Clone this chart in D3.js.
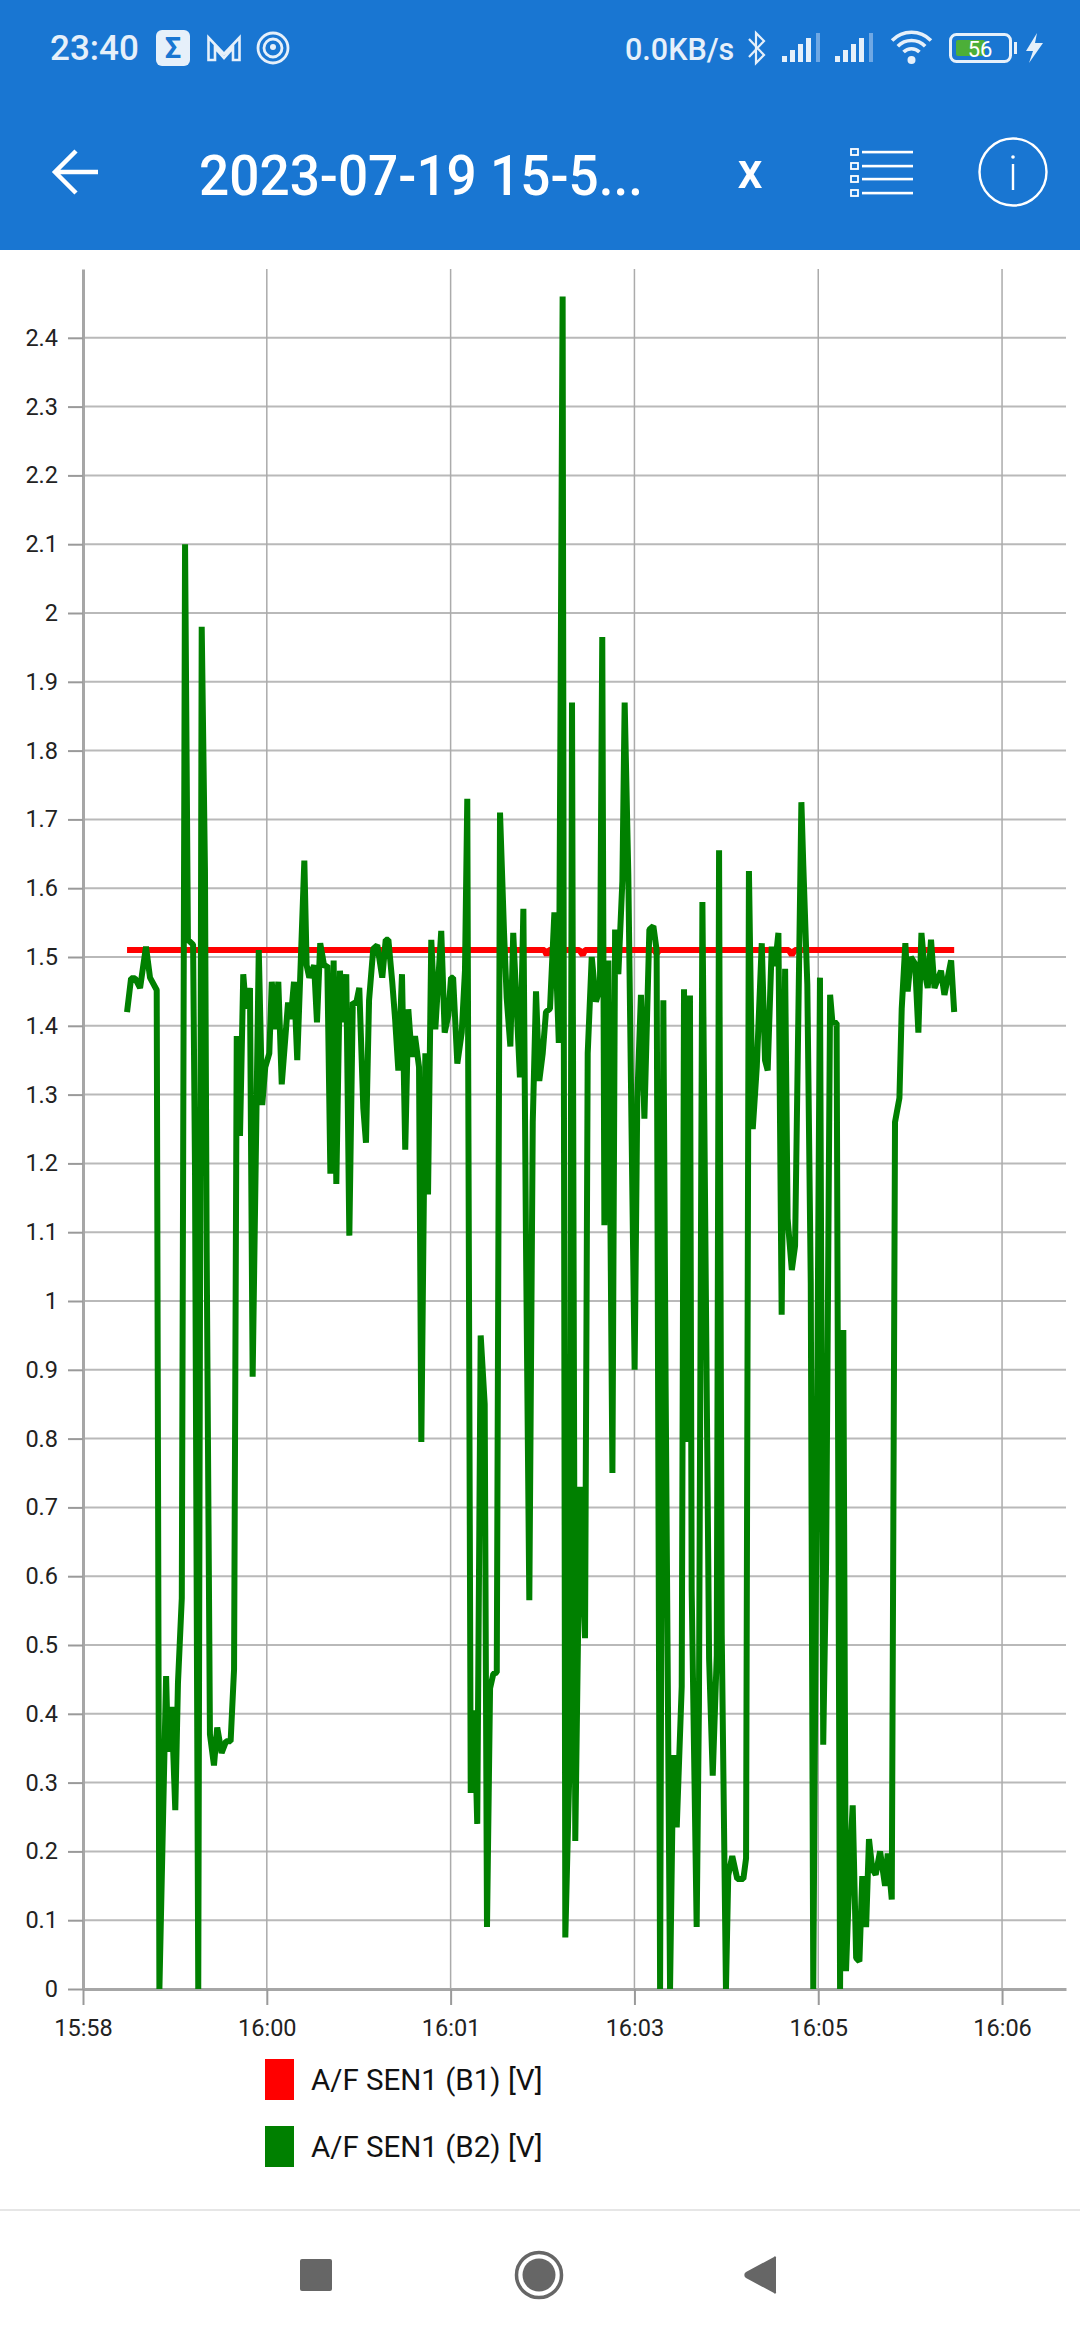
<!DOCTYPE html>
<html>
<head>
<meta charset="utf-8">
<title>A/F SEN1</title>
<script src="https://d3js.org/d3.v7.min.js"></script>
<style>
  html, body { margin: 0; padding: 0; background: #fff; }
  svg { display: block; font-family: Roboto, sans-serif; }
</style>
</head>
<body>
<div id="chart"></div>
<script>
// seconds after the first axis tick (15:58:40)
const greenTimes = [
  23.0, 25.1, 27.2, 29.8, 32.9, 35.0, 38.5, 39.9, 43.4, 44.4, 46.3, 48.2, 49.6, 51.6, 53.3, 54.8, 57.5, 58.5, 60.2, 62.0,
  63.7, 64.6, 66.3, 68.4, 70.1, 72.4, 74.7, 77.1, 78.9, 80.3, 82.0, 83.7, 85.1, 87.2, 88.6, 91.8, 93.6, 95.2, 97.3, 98.6,
  100.3, 102.0, 103.8, 107.1, 108.5, 110.2, 111.9, 115.6, 116.8, 118.2, 120.7, 122.2, 123.9, 126.0, 127.6, 129.2, 130.9, 132.3, 134.2, 135.6,
  137.5, 139.1, 140.9, 142.6, 144.3, 146.4, 147.8, 149.4, 151.6, 153.7, 156.3, 158.1, 159.5, 161.5, 163.0, 164.7, 166.6, 168.3, 169.9, 171.7,
  173.4, 175.5, 176.7, 178.8, 180.2, 181.9, 184.0, 187.1, 188.9, 190.8, 192.2, 193.3, 195.5, 197.8, 199.5, 200.7, 202.5, 204.4, 205.9, 207.7,
  209.8, 211.0, 212.6, 214.3, 216.1, 217.8, 219.9, 221.3, 223.2, 224.7, 228.2, 230.0, 231.4, 233.1, 234.9, 236.6, 238.3, 240.1, 241.8, 243.9,
  246.2, 248.5, 250.5, 251.9, 254.0, 255.4, 257.1, 259.6, 262.2, 263.6, 265.7, 267.9, 270.0, 271.2, 272.3, 274.4, 276.5, 277.9, 279.6, 281.7,
  282.9, 284.8, 288.1, 289.5, 291.4, 293.2, 295.8, 297.9, 299.6, 301.4, 303.1, 304.3, 306.6, 308.3, 310.1, 312.7, 313.9, 315.3, 317.0, 317.9,
  320.5, 321.7, 323.5, 327.0, 328.9, 331.0, 332.2, 333.6, 335.8, 337.0, 339.1, 341.7, 344.9, 346.3, 347.8, 349.8, 351.9, 354.5, 356.2, 357.6,
  359.7, 361.4, 363.2, 364.9, 366.7, 368.0, 370.2, 371.9, 375.2, 376.2, 378.3, 380.1, 381.4, 384.9, 386.6, 388.1, 390.2, 391.4, 393.6, 395.4,
  397.1, 398.5, 400.6, 402.0, 403.8, 405.5, 407.0, 409.0, 410.5, 412.2, 414.0, 416.3, 418.9, 420.3, 422.4, 424.1, 426.4, 427.6, 429.5, 430.7,
  432.4, 434.6, 436.3, 437.9, 439.8, 441.2, 442.9, 444.7, 448.1, 449.9, 453.4, 455.0
];
const greenValues = [
  1.42, 1.469, 1.469, 1.455, 1.515, 1.47, 1.452, 0, 0.455, 0.345, 0.41, 0.26, 0.445, 0.568, 2.1, 1.525, 1.518, 1.19, 0, 1.98,
  1.625, 1.07, 0.37, 0.325, 0.38, 0.343, 0.36, 0.36, 0.465, 1.385, 1.24, 1.475, 1.425, 1.455, 0.89, 1.51, 1.285, 1.34, 1.36, 1.464,
  1.395, 1.464, 1.315, 1.434, 1.41, 1.464, 1.35, 1.64, 1.488, 1.47, 1.488, 1.405, 1.52, 1.486, 1.488, 1.185, 1.495, 1.17, 1.48, 1.405,
  1.475, 1.095, 1.434, 1.432, 1.455, 1.28, 1.23, 1.437, 1.512, 1.517, 1.47, 1.525, 1.525, 1.464, 1.41, 1.335, 1.475, 1.22, 1.424, 1.355,
  1.385, 1.34, 0.795, 1.36, 1.155, 1.525, 1.395, 1.538, 1.39, 1.415, 1.47, 1.47, 1.345, 1.39, 1.48, 1.73, 0.285, 0.405, 0.24, 0.95,
  0.85, 0.09, 0.437, 0.458, 0.46, 1.71, 1.535, 1.44, 1.37, 1.535, 1.325, 1.57, 1.075, 0.565, 1.26, 1.45, 1.32, 1.36, 1.42, 1.425,
  1.565, 1.375, 2.46, 0.075, 0.315, 1.87, 0.215, 0.73, 0.51, 1.36, 1.5, 1.435, 1.455, 1.965, 1.11, 1.495, 0.75, 1.54, 1.475, 1.61,
  1.87, 1.62, 0.9, 1.295, 1.445, 1.265, 1.54, 1.545, 1.51, 0, 1.437, 0.875, 0, 0.34, 0.235, 0.44, 1.453, 0.795, 1.444, 0.58,
  0.09, 0.415, 1.58, 0.48, 0.31, 0.485, 1.655, 0.515, 0, 0.165, 0.193, 0.16, 0.16, 0.19, 1.625, 1.25, 1.34, 1.52, 1.35, 1.335,
  1.515, 1.487, 1.535, 0.98, 1.483, 1.12, 1.045, 1.08, 1.725, 1.633, 1.46, 1.025, 0, 1.47, 0.355, 0.62, 1.445, 1.405, 1.404, 0,
  0.958, 0.026, 0.19, 0.267, 0.045, 0.04, 0.164, 0.09, 0.218, 0.175, 0.166, 0.2, 0.15, 0.197, 0.13, 1.26, 1.295, 1.425, 1.52, 1.45,
  1.5, 1.49, 1.39, 1.535, 1.475, 1.455, 1.525, 1.455, 1.48, 1.445, 1.495, 1.42
];
const redTimes = [23.0, 241.0, 242.2, 243.4, 259.2, 261.0, 262.2, 298.4, 299.6, 301.0, 368.6, 370.2, 371.8, 455.0];
const redValues = [1.51, 1.51, 1.503, 1.51, 1.51, 1.503, 1.51, 1.51, 1.505, 1.51, 1.51, 1.503, 1.51, 1.51];

const xTickTimes = [0, 96, 192, 288, 384, 480];
const xTickLabels = ["15:58", "16:00", "16:01", "16:03", "16:05", "16:06"];
const yTicks = [0, 0.1, 0.2, 0.3, 0.4, 0.5, 0.6, 0.7, 0.8, 0.9, 1, 1.1, 1.2, 1.3, 1.4, 1.5, 1.6, 1.7, 1.8, 1.9, 2, 2.1, 2.2, 2.3, 2.4];
const seriesNames = ["A/F SEN1 (B1) [V]", "A/F SEN1 (B2) [V]"];
const seriesColors = ["#ff0000", "#008000"];

const width = 1080;
const height = 2340;
const margin = { top: 269, right: 14, bottom: 351, left: 83 };

const svg = d3.select("#chart").append("svg")
  .attr("width", width)
  .attr("height", height)
  .attr("viewBox", `0 0 ${width} ${height}`);

drawHeader();
drawChart();
drawNavBar();

function drawChart() {
  const x = d3.scaleLinear().domain([0, 513.4]).range([margin.left, width - margin.right]);
  const y = d3.scaleLinear().domain([0, 2.5]).range([height - margin.bottom, margin.top]);

  // gridlines
  svg.append("g").selectAll("line").data(yTicks.slice(1)).enter().append("line")
    .attr("x1", margin.left).attr("x2", width - margin.right)
    .attr("y1", d => y(d)).attr("y2", d => y(d))
    .attr("stroke", "#b9b9b9").attr("stroke-width", 2);
  svg.append("g").selectAll("line").data(xTickTimes.slice(1)).enter().append("line")
    .attr("x1", d => x(d)).attr("x2", d => x(d))
    .attr("y1", margin.top).attr("y2", height - margin.bottom)
    .attr("stroke", "#ababab").attr("stroke-width", 1.5);

  // axes
  const yAxis = svg.append("g")
    .attr("transform", `translate(${margin.left},0)`)
    .call(d3.axisLeft(y).tickValues(yTicks).tickFormat(d => String(d)).tickSize(15).tickSizeOuter(0).tickPadding(10));
  const xAxis = svg.append("g")
    .attr("transform", `translate(0,${height - margin.bottom})`)
    .call(d3.axisBottom(x).tickValues(xTickTimes).tickFormat((d, i) => xTickLabels[i]).tickSize(16).tickSizeOuter(0).tickPadding(14));

  [yAxis, xAxis].forEach(a => {
    a.select(".domain").attr("stroke", "#a6a6a6").attr("stroke-width", 3);
    a.selectAll(".tick line").attr("stroke", "#9a9a9a").attr("stroke-width", 2);
    a.selectAll("text").attr("fill", "#222").style("font-size", "23.5px").style("font-family", "Roboto");
  });

  // series
  const line = d3.line().x(d => x(d[0])).y(d => y(d[1]));
  svg.append("path")
    .attr("d", line(d3.zip(redTimes, redValues)))
    .attr("fill", "none").attr("stroke", seriesColors[0]).attr("stroke-width", 6)
    .attr("stroke-linejoin", "bevel");
  svg.append("path")
    .attr("d", line(d3.zip(greenTimes, greenValues)))
    .attr("fill", "none").attr("stroke", seriesColors[1]).attr("stroke-width", 6)
    .attr("stroke-linejoin", "bevel");

  // legend
  const legend = svg.append("g").selectAll("g").data(seriesNames).enter().append("g")
    .attr("transform", (d, i) => `translate(265,${2059 + i * 67})`);
  legend.append("rect")
    .attr("width", 29).attr("height", 41)
    .attr("fill", (d, i) => seriesColors[i]);
  legend.append("text")
    .attr("x", 46).attr("y", 31)
    .attr("fill", "#111")
    .style("font-size", "29.5px")
    .text(d => d);
}

function drawHeader() {
  const g = svg.append("g");
  g.append("rect").attr("width", width).attr("height", 250).attr("fill", "#1976d2");

  const pale = "#e6f0fa";
  g.append("text").attr("x", 50).attr("y", 60).attr("fill", pale)
    .style("font-size", "35px").style("font-weight", 500).text("23:40");

  // sigma badge
  g.append("rect").attr("x", 156).attr("y", 30).attr("width", 34).attr("height", 36).attr("rx", 6).attr("fill", pale);
  g.append("text").attr("x", 173).attr("y", 58).attr("text-anchor", "middle").attr("fill", "#1976d2")
    .style("font-size", "29px").style("font-weight", 700).text("Σ");
  // M
  g.append("path").attr("d", "M208.5 60V37.5L224 54L239.5 37.5V60H233V48L224 58L215 48V60Z")
    .attr("fill", "none").attr("stroke", pale).attr("stroke-width", 2.6);
  // target
  [15, 9].forEach(r => g.append("circle").attr("cx", 273).attr("cy", 48).attr("r", r)
    .attr("fill", "none").attr("stroke", pale).attr("stroke-width", 2.8));
  g.append("circle").attr("cx", 273).attr("cy", 47).attr("r", 3).attr("fill", pale);

  g.append("text").attr("x", 625).attr("y", 60).attr("fill", pale)
    .style("font-size", "30.5px").style("font-weight", 500).text("0.0KB/s");

  // bluetooth
  g.append("path").attr("d", "M749 39L764 55L756 63V33L764 41L749 57")
    .attr("fill", "none").attr("stroke", pale).attr("stroke-width", 2.2);

  // signal bars
  [782, 835].forEach(x0 => {
    [0, 1, 2, 3].forEach(i => g.append("rect")
      .attr("x", x0 + i * 8).attr("y", 56 - i * 6).attr("width", 5).attr("height", 6 + i * 6).attr("fill", pale));
    g.append("rect").attr("x", x0 + 34).attr("y", 33).attr("width", 4).attr("height", 29).attr("fill", "#6fa8e4");
  });

  // wifi
  [27, 19, 11].forEach(r => g.append("path")
    .attr("d", `M${911.5 - r * 0.72} ${60 - r * 0.72}A${r} ${r} 0 0 1 ${911.5 + r * 0.72} ${60 - r * 0.72}`)
    .attr("fill", "none").attr("stroke", pale).attr("stroke-width", 3.6));
  g.append("circle").attr("cx", 911.5).attr("cy", 60).attr("r", 4).attr("fill", pale);

  // battery
  g.append("rect").attr("x", 950.5).attr("y", 34.5).attr("width", 60).attr("height", 27).attr("rx", 6)
    .attr("fill", "none").attr("stroke", pale).attr("stroke-width", 3);
  g.append("rect").attr("x", 956).attr("y", 40).attr("width", 29).attr("height", 16).attr("rx", 2).attr("fill", "#4caf38");
  g.append("rect").attr("x", 1014).attr("y", 42).attr("width", 3).attr("height", 12).attr("fill", pale);
  g.append("text").attr("x", 980).attr("y", 57).attr("text-anchor", "middle").attr("fill", "#fff")
    .style("font-size", "22px").text("56");
  g.append("path").attr("d", "M1037 33L1026 51H1033L1029 63L1043 43H1035Z").attr("fill", pale);

  // back arrow
  g.append("path").attr("d", "M76 151L55 172L76 193M55 172H98")
    .attr("fill", "none").attr("stroke", "#fff").attr("stroke-width", 4.5);

  g.append("text").attr("x", 199).attr("y", 195).attr("fill", "#fff")
    .attr("textLength", 444).attr("lengthAdjust", "spacingAndGlyphs")
    .style("font-size", "56px").style("font-weight", 500).text("2023-07-19 15-5...");
  g.append("text").attr("x", 750).attr("y", 188).attr("text-anchor", "middle").attr("fill", "#fff")
    .style("font-size", "50px").style("font-weight", 500).text("x");

  // list icon
  [152, 166, 179, 193].forEach(yy => {
    g.append("rect").attr("x", 851).attr("y", yy - 3).attr("width", 7).attr("height", 6)
      .attr("fill", "none").attr("stroke", "#fff").attr("stroke-width", 1.8);
    g.append("rect").attr("x", 862).attr("y", yy - 1.2).attr("width", 51).attr("height", 2.6).attr("fill", "#fff");
  });

  // info icon
  g.append("circle").attr("cx", 1013).attr("cy", 172).attr("r", 33.5)
    .attr("fill", "none").attr("stroke", "#fff").attr("stroke-width", 2.4);
  g.append("rect").attr("x", 1011.8).attr("y", 164).attr("width", 2.4).attr("height", 26).attr("fill", "#fff");
  g.append("circle").attr("cx", 1013).attr("cy", 157).attr("r", 1.8).attr("fill", "#fff");
}

function drawNavBar() {
  const g = svg.append("g");
  g.append("line").attr("x1", 0).attr("x2", width).attr("y1", 2210).attr("y2", 2210)
    .attr("stroke", "#e6e6e6").attr("stroke-width", 2);
  g.append("rect").attr("x", 300).attr("y", 2259).attr("width", 32).attr("height", 32).attr("rx", 2).attr("fill", "#666");
  g.append("circle").attr("cx", 539).attr("cy", 2275).attr("r", 22.5).attr("fill", "none").attr("stroke", "#666").attr("stroke-width", 3.5);
  g.append("circle").attr("cx", 539).attr("cy", 2275).attr("r", 16.5).attr("fill", "#666");
  g.append("path").attr("d", "M776 2258V2292a1 1 0 0 1-2 1L746 2278a3.5 3.5 0 0 1 0-6L774 2257a1 1 0 0 1 2 1Z").attr("fill", "#666");
}
</script>
</body>
</html>
